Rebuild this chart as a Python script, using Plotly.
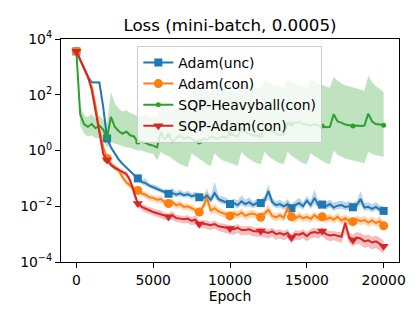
import plotly.graph_objects as go

epochs = list(range(0, 20001, 250))

adam_unc = [3600, 1800, 900, 450, 280, 280, 275, 35, 2.7, 1.3,
            0.75, 0.48, 0.33, 0.24, 0.18, 0.13, 0.10, 0.075, 0.068, 0.055,
            0.048, 0.042, 0.036, 0.031, 0.028, 0.03, 0.026, 0.029, 0.025, 0.027,
            0.023, 0.025, 0.021, 0.019, 0.024, 0.017, 0.03, 0.018, 0.016, 0.014,
            0.012, 0.013, 0.011, 0.015, 0.012, 0.014, 0.011, 0.013, 0.013, 0.016,
            0.035, 0.014, 0.011, 0.012, 0.010, 0.012, 0.0085, 0.011, 0.013, 0.010,
            0.016, 0.011, 0.02, 0.011, 0.0115, 0.010, 0.012, 0.009, 0.0105, 0.011,
            0.0095, 0.010, 0.0092, 0.011, 0.018, 0.009, 0.0095, 0.008, 0.0095, 0.0075, 0.0068]
adam_unc_lo = [3400, 1700, 850, 420, 260, 260, 250, 25, 2.3, 1.1,
               0.65, 0.42, 0.29, 0.21, 0.155, 0.11, 0.085, 0.063, 0.055, 0.046,
               0.04, 0.035, 0.03, 0.026, 0.023, 0.024, 0.021, 0.023, 0.02, 0.021,
               0.018, 0.02, 0.016, 0.015, 0.018, 0.013, 0.02, 0.014, 0.012, 0.011,
               0.009, 0.01, 0.0085, 0.011, 0.009, 0.01, 0.0085, 0.01, 0.0095, 0.012,
               0.018, 0.0105, 0.0085, 0.009, 0.0075, 0.009, 0.0065, 0.0085, 0.0095, 0.0075,
               0.012, 0.008, 0.012, 0.008, 0.0085, 0.0075, 0.009, 0.0068, 0.0078, 0.0082,
               0.0072, 0.0075, 0.007, 0.0082, 0.011, 0.0068, 0.0072, 0.006, 0.0072, 0.0057, 0.0052]
adam_unc_hi = [3800, 1900, 950, 480, 300, 300, 300, 50, 3.2, 1.5,
               0.85, 0.55, 0.38, 0.28, 0.21, 0.15, 0.12, 0.09, 0.1, 0.066,
               0.06, 0.055, 0.045, 0.04, 0.035, 0.045, 0.033, 0.04, 0.032, 0.036,
               0.03, 0.034, 0.028, 0.026, 0.035, 0.024, 0.075, 0.025, 0.022, 0.02,
               0.016, 0.019, 0.016, 0.025, 0.017, 0.021, 0.015, 0.018, 0.018, 0.024,
               0.06, 0.02, 0.015, 0.017, 0.014, 0.018, 0.012, 0.016, 0.02, 0.014,
               0.024, 0.016, 0.04, 0.016, 0.016, 0.014, 0.018, 0.013, 0.015, 0.016,
               0.014, 0.015, 0.013, 0.016, 0.035, 0.013, 0.014, 0.012, 0.014, 0.011, 0.0095]

adam_con = [3600, 1750, 850, 420, 200, 40, 5.5, 1.3, 0.52, 0.33,
            0.25, 0.2, 0.11, 0.072, 0.056, 0.045, 0.037, 0.029, 0.026, 0.021,
            0.02, 0.017, 0.018, 0.014, 0.0125, 0.014, 0.011, 0.012, 0.0095, 0.010,
            0.0085, 0.0075, 0.0062, 0.0095, 0.02, 0.007, 0.0085, 0.0065, 0.0058, 0.0052,
            0.0045, 0.0055, 0.0048, 0.006, 0.0045, 0.0052, 0.0055, 0.0048, 0.004, 0.0055,
            0.0075, 0.0045, 0.004, 0.0048, 0.0038, 0.009, 0.0042, 0.0036, 0.0045, 0.0037,
            0.0042, 0.0035, 0.0048, 0.0037, 0.0042, 0.0034, 0.004, 0.0033, 0.0042, 0.0031,
            0.0037, 0.003, 0.0028, 0.0034, 0.0029, 0.0032, 0.0026, 0.0031, 0.0025, 0.0029, 0.002]
adam_con_lo = [3400, 1650, 800, 380, 160, 28, 3.8, 1.0, 0.42, 0.27,
               0.2, 0.15, 0.085, 0.055, 0.043, 0.034, 0.028, 0.022, 0.019, 0.016,
               0.015, 0.0125, 0.013, 0.0105, 0.0092, 0.01, 0.0082, 0.0088, 0.007, 0.0074,
               0.0062, 0.0055, 0.0045, 0.0068, 0.011, 0.005, 0.006, 0.0047, 0.0042, 0.0038,
               0.0033, 0.004, 0.0035, 0.0043, 0.0033, 0.0037, 0.004, 0.0035, 0.0029, 0.004,
               0.005, 0.0033, 0.0029, 0.0035, 0.0027, 0.006, 0.003, 0.0026, 0.0032, 0.0027,
               0.003, 0.0025, 0.0034, 0.0027, 0.003, 0.0024, 0.0029, 0.0024, 0.003, 0.0022,
               0.0027, 0.0021, 0.002, 0.0024, 0.0021, 0.0023, 0.0018, 0.0022, 0.0018, 0.0021, 0.0014]
adam_con_hi = [3800, 1850, 900, 460, 250, 55, 8, 1.7, 0.62, 0.4,
               0.3, 0.25, 0.14, 0.09, 0.07, 0.056, 0.046, 0.036, 0.033, 0.027,
               0.026, 0.022, 0.025, 0.018, 0.016, 0.019, 0.014, 0.016, 0.012, 0.013,
               0.011, 0.0098, 0.0082, 0.013, 0.05, 0.0095, 0.012, 0.0088, 0.0078, 0.007,
               0.006, 0.0075, 0.0065, 0.0085, 0.006, 0.0072, 0.0075, 0.0065, 0.0054, 0.0075,
               0.012, 0.006, 0.0054, 0.0065, 0.0052, 0.018, 0.0057, 0.0049, 0.0062, 0.005,
               0.0058, 0.0048, 0.0066, 0.005, 0.0058, 0.0047, 0.0055, 0.0045, 0.0058, 0.0043,
               0.0051, 0.0042, 0.0039, 0.0047, 0.004, 0.0045, 0.0036, 0.0043, 0.0035, 0.0045, 0.0028]

sqp_hb = [3600, 20, 8.9, 7.1, 8.9, 6.3, 7.9, 5.6, 2.8, 16,
          7.1, 5.0, 4.0, 4.8, 3.5, 3.2, 2.0, 2.1, 1.9, 1.6,
          1.5, 1.3, 4.5, 2.5, 3.5, 2.0, 2.8, 3.5, 2.6, 3.0,
          2.6, 2.2, 2.0, 2.6, 2.4, 3.2, 2.8, 2.6, 3.2, 2.8,
          4.0, 3.5, 3.2, 6.3, 4.5, 4.0, 3.5, 3.3, 3.5, 6.3,
          5.6, 5.0, 4.0, 3.6, 3.8, 9.5, 8.9, 10, 10.7, 8.9,
          8.3, 7.9, 8.9, 7.9, 7.6, 6.8, 7.1, 20, 11, 10,
          8.5, 7.9, 7.6, 7.9, 7.6, 7.9, 21, 11, 8.9, 8.5, 8.1]
sqp_hb_lo = [3200, 8, 4, 3.2, 3.5, 2.8, 2.8, 2.2, 1.26, 2.0,
             1.8, 1.6, 1.4, 1.3, 1.26, 1.12, 1.0, 1.0, 0.9, 0.8,
             0.76, 0.45, 0.9, 0.7, 0.63, 0.5, 0.4, 0.32, 0.28, 0.25,
             0.8, 0.63, 0.5, 0.4, 0.32, 0.28, 0.8, 0.56, 0.45, 0.4,
             0.35, 0.32, 0.28, 0.9, 0.63, 0.5, 0.4, 0.35, 0.32, 0.9,
             0.63, 0.5, 0.4, 0.35, 0.32, 0.9, 0.63, 0.5, 0.42, 0.35,
             0.32, 0.8, 0.63, 0.5, 0.42, 0.35, 0.32, 1.0, 0.7, 0.6,
             0.52, 0.47, 0.43, 0.4, 0.38, 0.35, 0.9, 0.76, 0.68, 0.63, 0.6]
sqp_hb_hi = [4000, 40, 18, 16, 20, 14, 18, 12.6, 10, 126,
             50, 32, 25, 28, 22, 20, 16, 18, 20, 16,
             18, 16, 40, 28, 32, 25, 32, 40, 35, 45,
             250, 200, 180, 160, 140, 126, 280, 220, 200, 180,
             160, 140, 126, 320, 250, 220, 200, 180, 160, 350,
             280, 250, 220, 200, 180, 350, 280, 250, 220, 200,
             180, 350, 280, 250, 220, 200, 180, 430, 320, 260,
             220, 200, 180, 160, 150, 140, 480, 280, 200, 160, 123]

sqp_adam = [3600, 1800, 900, 450, 150, 25, 4.3, 0.75, 0.46, 0.3,
            0.24, 0.2, 0.17, 0.145, 0.085, 0.03, 0.0125, 0.0095, 0.008, 0.0072,
            0.0062, 0.0056, 0.0052, 0.0046, 0.0042, 0.0047, 0.0038, 0.0036, 0.0034, 0.0036,
            0.003, 0.0033, 0.0023, 0.0024, 0.0022, 0.0021, 0.0023, 0.0019, 0.0018, 0.0017,
            0.0016, 0.0015, 0.0017, 0.0014, 0.0014, 0.0015, 0.0013, 0.00125, 0.0013, 0.0012,
            0.0011, 0.00125, 0.001, 0.0011, 0.00095, 0.0011, 0.00075, 0.001, 0.00095, 0.0011,
            0.00085, 0.0011, 0.0012, 0.0011, 0.0013, 0.001, 0.0009, 0.00095, 0.00085, 0.0008,
            0.0025, 0.0008, 0.00062, 0.00075, 0.0007, 0.00055, 0.0006, 0.0005, 0.00055, 0.00045, 0.00037]
sqp_adam_lo = [3400, 1700, 850, 420, 130, 20, 3.3, 0.6, 0.38, 0.25,
               0.2, 0.165, 0.14, 0.115, 0.06, 0.02, 0.0095, 0.0072, 0.006, 0.0053,
               0.0045, 0.004, 0.0037, 0.0033, 0.003, 0.0033, 0.0027, 0.0025, 0.0024, 0.0025,
               0.0021, 0.0022, 0.0016, 0.0017, 0.0015, 0.0014, 0.0016, 0.0013, 0.0012, 0.0011,
               0.001, 0.00095, 0.0011, 0.0009, 0.0009, 0.00095, 0.00082, 0.0008, 0.00082, 0.00075,
               0.0007, 0.0008, 0.00063, 0.0007, 0.0006, 0.0007, 0.00048, 0.00063, 0.0006, 0.0007,
               0.00055, 0.0007, 0.00075, 0.0007, 0.00085, 0.00063, 0.00055, 0.0006, 0.00052, 0.00048,
               0.0012, 0.00048, 0.00036, 0.00045, 0.00042, 0.00032, 0.00035, 0.00028, 0.00032, 0.00026, 0.0002]
sqp_adam_hi = [3800, 1900, 950, 480, 175, 32, 5.5, 0.95, 0.55, 0.36,
               0.29, 0.24, 0.2, 0.18, 0.11, 0.042, 0.016, 0.012, 0.0105, 0.0095,
               0.0082, 0.0075, 0.007, 0.006, 0.0056, 0.0068, 0.005, 0.0048, 0.0045, 0.0048,
               0.004, 0.0048, 0.003, 0.0033, 0.003, 0.0028, 0.0031, 0.0025, 0.0024, 0.0023,
               0.0022, 0.002, 0.0023, 0.0019, 0.0019, 0.002, 0.0018, 0.0017, 0.0018, 0.0016,
               0.0015, 0.0017, 0.0014, 0.0015, 0.0013, 0.0015, 0.001, 0.0014, 0.0013, 0.0015,
               0.0012, 0.0015, 0.0017, 0.0015, 0.0018, 0.0014, 0.0013, 0.0013, 0.0012, 0.0012,
               0.0045, 0.0012, 0.00095, 0.0012, 0.0011, 0.0009, 0.00095, 0.0008, 0.0009, 0.00075, 0.0006]

labels = ["Adam(unc)", "Adam(con)", "SQP-Heavyball(con)", "SQP-Adam(con)"]
x_ticks = [0, 5000, 10000, 15000, 20000]
y_ticks = [1e-4, 1e-2, 1, 1e2, 1e4]
y_ticktext = ["10<sup>\u22124</sup>", "10<sup>\u22122</sup>", "10<sup>0</sup>",
              "10<sup>2</sup>", "10<sup>4</sup>"]

# --- styling ---
FONT = "DejaVu Sans"
colors = ["#1f77b4", "#ff7f0e", "#2ca02c", "#d62728"]
fills = ["rgba(31,119,180,0.3)", "rgba(255,127,14,0.3)",
         "rgba(44,160,44,0.3)", "rgba(214,39,40,0.3)"]
symbols = ["square", "circle", "circle", "triangle-down"]
msizes = [8, 9, 5, 9]
MARK_EVERY = 8  # one marker per 2000 epochs

series = [
    (adam_unc, adam_unc_lo, adam_unc_hi),
    (adam_con, adam_con_lo, adam_con_hi),
    (sqp_hb, sqp_hb_lo, sqp_hb_hi),
    (sqp_adam, sqp_adam_lo, sqp_adam_hi),
]
for s in series:
    assert all(len(a) == len(epochs) for a in s)

fig = go.Figure()

# shaded bands go underneath every line
for (mean, lo, hi), fc in zip(series, fills):
    fig.add_trace(go.Scatter(
        x=epochs + epochs[::-1], y=hi + lo[::-1],
        fill="toself", fillcolor=fc, line=dict(width=0),
        mode="lines", hoverinfo="skip", showlegend=False))

# lines, their sparse markers, and a legend entry for each
for (mean, lo, hi), lab, c, sym, ms in zip(series, labels, colors, symbols, msizes):
    fig.add_trace(go.Scatter(
        x=epochs, y=mean, mode="lines",
        line=dict(color=c, width=2), showlegend=False, name=lab))
    fig.add_trace(go.Scatter(
        x=epochs[::MARK_EVERY], y=mean[::MARK_EVERY], mode="markers",
        marker=dict(symbol=sym, size=ms, color=c), showlegend=False, name=lab))
    fig.add_trace(go.Scatter(
        x=[None], y=[None], mode="lines+markers", name=lab,
        line=dict(color=c, width=2), marker=dict(symbol=sym, size=ms, color=c)))

axis_common = dict(
    showline=True, linecolor="black", linewidth=1.1, mirror=True,
    ticks="outside", ticklen=5, tickwidth=1.1, tickcolor="black",
    showgrid=False, zeroline=False,
    tickfont=dict(family=FONT, size=13.9, color="black"),
)

# the page puts the figure 8px in from the top-left corner, so the
# margins are shifted to land the axes where the reference has them
fig.update_layout(
    width=420, height=320,
    margin=dict(l=50, r=29, t=31, b=66),
    paper_bgcolor="white", plot_bgcolor="white",
    font=dict(family=FONT, size=13.9, color="black"),
    title=dict(text="Loss (mini-batch, 0.0005)", x=0.5, xref="paper",
               y=1 - 17 / 320, yanchor="middle",
               font=dict(family=FONT, size=16.7, color="black")),
    xaxis=dict(range=[-1000, 21000], tickvals=x_ticks, tickformat="d",
               title=dict(text="Epoch", standoff=4,
                          font=dict(family=FONT, size=13.9, color="black")),
               **axis_common),
    yaxis=dict(type="log", range=[-4, 4], tickvals=y_ticks, ticktext=y_ticktext,
               **axis_common),
    legend=dict(x=0.2258, y=0.9686, xanchor="left", yanchor="top",
                bgcolor="rgba(255,255,255,0.8)", bordercolor="#cccccc", borderwidth=1,
                font=dict(family=FONT, size=13.9, color="black"),
                itemwidth=30, tracegroupgap=0),
    showlegend=True,
)

fig.write_html("out.html")
